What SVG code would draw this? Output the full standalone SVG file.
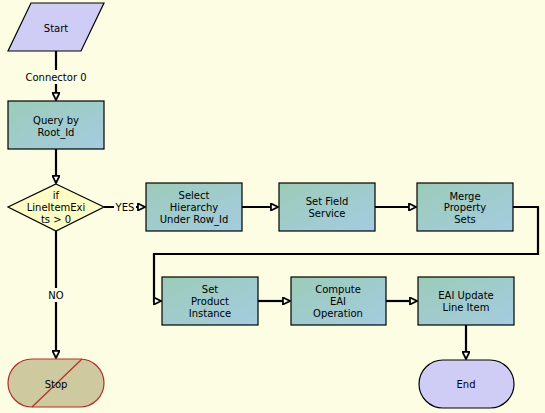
<svg xmlns="http://www.w3.org/2000/svg" width="545" height="413" viewBox="0 0 545 413">
<style>
text{font-family:"DejaVu Sans","Liberation Sans",sans-serif;font-size:10px;fill:#000;text-anchor:middle;dominant-baseline:central}
.box{fill:url(#boxg);stroke:#000;stroke-width:1.2}
.cn{fill:none;stroke:#000;stroke-width:2.2}
.lbl{fill:#fdfde4}
</style>
<defs>
<linearGradient id="boxg" x1="0" y1="0" x2="1" y2="1">
<stop offset="0" stop-color="#9ccbb8"/>
<stop offset="1" stop-color="#a4cce0"/>
</linearGradient>
<marker id="ar" viewBox="0 0 10 10" refX="9" refY="5" markerWidth="4" markerHeight="4" orient="auto" markerUnits="strokeWidth">
<path d="M1,1 L9,5 L1,9 Z" fill="#fff" stroke="#000" stroke-width="2"/>
</marker>
</defs>
<rect width="545" height="413" fill="#fdfde4"/>
<g id="connectors">
<path class="cn" d="M56,51 V100" marker-end="url(#ar)"/>
<rect class="lbl" x="22" y="70" width="68" height="14"/>
<text x="56" y="77">Connector 0</text>
<path class="cn" d="M56,149 V183" marker-end="url(#ar)"/>
<path class="cn" d="M104,207 H145" marker-end="url(#ar)"/>
<rect class="lbl" x="114" y="200" width="22" height="14"/>
<text x="125" y="207">YES</text>
<path class="cn" d="M242,207 H278" marker-end="url(#ar)"/>
<path class="cn" d="M375,207 H416" marker-end="url(#ar)"/>
<path class="cn" d="M513,207 H538 V254 H154 V301 H161" marker-end="url(#ar)"/>
<path class="cn" d="M258,301 H290" marker-end="url(#ar)"/>
<path class="cn" d="M386,301 H417" marker-end="url(#ar)"/>
<path class="cn" d="M466,325 V359" marker-end="url(#ar)"/>
<path class="cn" d="M56,231 V358" marker-end="url(#ar)"/>
<rect class="lbl" x="46" y="288" width="20" height="14"/>
<text x="56" y="295">NO</text>
</g>
<g id="start">
<polygon points="31,3 104,3 81,51 8,51" fill="#cfcdf5" stroke="#000" stroke-width="1.2"/>
<text x="56" y="28">Start</text>
</g>
<g id="query">
<rect class="box" x="8" y="101" width="96" height="48"/>
<text x="56" y="120">Query by</text>
<text x="56" y="132">Root_Id</text>
</g>
<g id="decision">
<polygon points="56,184 104,207 56,231 8,207" fill="#fdfcc4" stroke="#000" stroke-width="1.2"/>
<text x="56" y="195">if</text>
<text x="56" y="207">LineItemExi</text>
<text x="56" y="219">ts &gt; 0</text>
</g>
<g id="select">
<rect class="box" x="146" y="183" width="96" height="48"/>
<text x="194" y="195">Select</text>
<text x="194" y="207">Hierarchy</text>
<text x="194" y="219">Under Row_Id</text>
</g>
<g id="setfield">
<rect class="box" x="279" y="183" width="96" height="48"/>
<text x="327" y="201">Set Field</text>
<text x="327" y="213">Service</text>
</g>
<g id="merge">
<rect class="box" x="417" y="183" width="96" height="48"/>
<text x="465" y="196">Merge</text>
<text x="465" y="207">Property</text>
<text x="465" y="219">Sets</text>
</g>
<g id="setproduct">
<rect class="box" x="162" y="277" width="96" height="48"/>
<text x="210" y="289">Set</text>
<text x="210" y="301">Product</text>
<text x="210" y="313">Instance</text>
</g>
<g id="compute">
<rect class="box" x="291" y="277" width="95" height="48"/>
<text x="338" y="289">Compute</text>
<text x="338" y="301">EAI</text>
<text x="338" y="313">Operation</text>
</g>
<g id="eaiupdate">
<rect class="box" x="418" y="277" width="96" height="48"/>
<text x="466" y="295">EAI Update</text>
<text x="466" y="307">Line Item</text>
</g>
<g id="stop">
<rect x="8" y="359" width="96" height="48" rx="24" ry="24" fill="#cfc9a0" stroke="#b03028" stroke-width="1.2"/>
<line x1="32" y1="407" x2="82" y2="359" stroke="#b03028" stroke-width="1.2"/>
<text x="56" y="384">Stop</text>
</g>
<g id="end">
<rect x="419" y="360" width="95" height="48" rx="24" ry="24" fill="#cfcdf5" stroke="#000" stroke-width="1.2"/>
<text x="466" y="384">End</text>
</g>
</svg>
